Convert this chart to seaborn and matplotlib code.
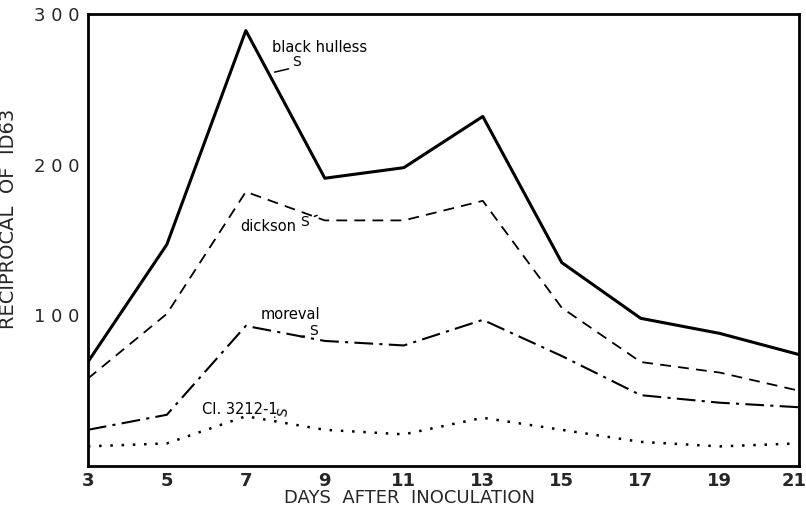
import matplotlib
matplotlib.use("Agg")
import matplotlib.pyplot as plt
import matplotlib.transforms as mtransforms
import seaborn as sns
import pandas as pd

days = [3, 5, 7, 9, 11, 13, 15, 17, 19, 21]
black_hulless = [69, 147, 289, 191, 198, 232, 135, 98, 88, 74]
dickson = [58, 101, 182, 163, 163, 176, 105, 69, 62, 50]
moreval = [24, 34, 93, 83, 80, 97, 73, 47, 42, 39]
ci_3212 = [13, 15, 33, 24, 21, 32, 24, 16, 13, 15]

series_names = ["black hulless", "dickson", "moreval", "CI. 3212-1"]
series_values = [black_hulless, dickson, moreval, ci_3212]
x_ticks = [3, 5, 7, 9, 11, 13, 15, 17, 19, 21]
y_ticks = [100, 200, 300]

rows = []
for name, vals in zip(series_names, series_values):
    for d, v in zip(days, vals):
        rows.append({"day": d, "value": v, "variety": name})
df = pd.DataFrame(rows)

sns.set_theme(style="white")
plt.rcParams["font.family"] = ["DejaVu Sans"]

fig = plt.figure(figsize=(8.06, 5.09), dpi=100)
ax = fig.add_axes([0.109, 0.0845, 0.882, 0.888])

styles = {
    "black hulless": dict(linestyle="-", linewidth=2.2),
    "dickson": dict(linestyle=(0, (6, 4)), linewidth=1.3),
    "moreval": dict(linestyle=(0, (9, 3, 1.5, 3)), linewidth=1.5),
    "CI. 3212-1": dict(linestyle=(0, (1, 3.5)), linewidth=1.8),
}
for name in series_names:
    sub = df[df["variety"] == name]
    sns.lineplot(data=sub, x="day", y="value", ax=ax, color="black",
                 legend=False, **styles[name])

ax.set_xlim(3, 21)
ax.set_ylim(0, 300)
ax.set_xticks(x_ticks)
ax.set_xticklabels([str(t) for t in x_ticks], fontsize=13, fontweight="bold")
ax.set_yticks(y_ticks)
ax.set_yticklabels([" ".join(str(t)) for t in y_ticks], fontsize=13)
ax.tick_params(axis="x", direction="in", length=5, width=1.5, pad=4)
ax.tick_params(axis="y", direction="out", length=3, width=1.5, pad=3)
for s in ax.spines.values():
    s.set_linewidth(2.0)
    s.set_color("black")

# nudge last x tick label inward so it is not clipped
last = ax.get_xticklabels()[-1]
last.set_transform(last.get_transform() +
                   mtransforms.ScaledTranslation(-5 / 100, 0, fig.dpi_scale_trans))

ax.set_xlabel("DAYS  AFTER  INOCULATION", fontsize=13)
ax.xaxis.set_label_coords(0.453, -0.052)
ax.set_ylabel("RECIPROCAL  OF  ID63", fontsize=14)
ax.yaxis.set_label_coords(-0.098, 0.546)

# variety labels
texts = [
    ("black hulless", 7.66, 278),
    ("dickson", 6.85, 159),
    ("moreval", 7.38, 100.5),
    ("CI. 3212-1", 5.89, 37.8),
]
for text, tx, ty in texts:
    ax.text(tx, ty, text, fontsize=10.5, ha="left", va="center", color="black")

# squiggle pointers: (S x, S y, rotation, tail start, tail end)
squiggles = [
    (8.28, 268, 0, (8.15, 264), (7.66, 261)),
    (8.49, 162, 0, (8.67, 165), (8.87, 167)),
    (8.72, 89.5, 0, (8.55, 86.5), (8.32, 85.6)),
    (7.95, 35.8, 80, (7.8, 33), (7.66, 31.8)),
]
for sx, sy, rot, p0, p1 in squiggles:
    ax.text(sx, sy, "S", fontsize=10, ha="center", va="center",
            rotation=rot, color="black")
    ax.annotate("", xy=p1, xytext=p0,
                arrowprops=dict(arrowstyle="-", color="black", lw=1.1))

fig.savefig("out.png", dpi=100)
